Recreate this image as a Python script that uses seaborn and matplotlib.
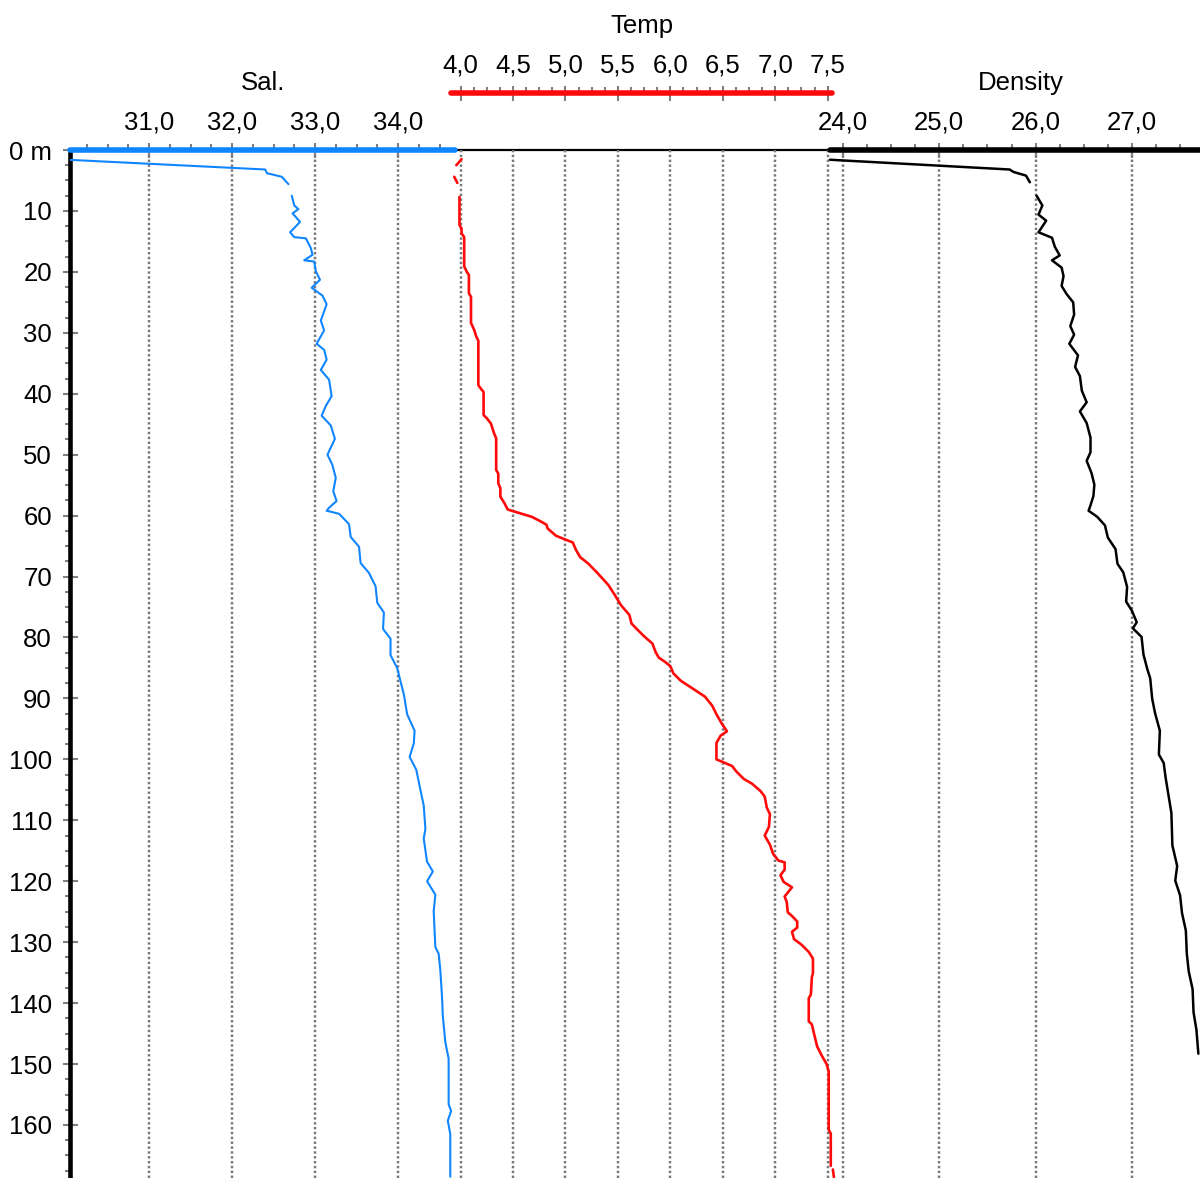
import numpy as np
import pandas as pd
import matplotlib
matplotlib.use("Agg")
import matplotlib.pyplot as plt
from matplotlib.ticker import FixedLocator, FuncFormatter
import seaborn as sns

# ---------------- CTD profile data (depth in m) ----------------
# Salinity
sal_depth_surf = [1.6, 3.2, 3.8, 4.4, 5.6]
sal_surf = [30.02, 32.40, 32.42, 32.60, 32.68]
sal_depth_main = [7.5, 9.1, 9.7, 10.4, 11.8, 13.5, 14.3, 14.5, 16.1, 17.2, 18.1, 18.3,
                  19.9, 21.3, 22.6, 23.9, 25.3, 28.0, 29.6, 31.8, 32.8, 34.4, 36.1, 37.7,
                  40.4, 42.0, 43.6, 45.2, 47.4, 50.0, 51.7, 53.8, 56.0, 57.6, 58.7, 59.2,
                  59.7, 61.4, 63.5, 65.1, 67.8, 69.4, 71.6, 74.3, 75.9, 78.6, 80.2, 82.9,
                  85.0, 87.2, 89.3, 92.6, 95.3, 97.4, 99.6, 101.7, 105.0, 107.6, 111.4,
                  113.0, 116.8, 118.4, 120.0, 122.2, 124.9, 130.8, 131.9, 134.6, 138.9,
                  142.1, 146.4, 149.1, 156.6, 157.7, 159.3, 161.5, 168.5]
sal_main = [32.72, 32.75, 32.80, 32.73, 32.82, 32.70, 32.75, 32.89, 32.95, 32.97, 32.87, 32.99,
            33.01, 33.06, 32.96, 33.09, 33.14, 33.07, 33.11, 33.02, 33.11, 33.14, 33.07, 33.17,
            33.20, 33.13, 33.08, 33.19, 33.24, 33.15, 33.21, 33.25, 33.22, 33.26, 33.17, 33.14,
            33.29, 33.41, 33.43, 33.53, 33.55, 33.65, 33.73, 33.75, 33.83, 33.82, 33.91, 33.91,
            33.99, 34.03, 34.07, 34.11, 34.20, 34.19, 34.14, 34.22, 34.27, 34.31, 34.33,
            34.31, 34.35, 34.42, 34.35, 34.45, 34.43, 34.45, 34.49, 34.51, 34.53,
            34.54, 34.57, 34.61, 34.61, 34.64, 34.60, 34.63, 34.63]

# Temperature
temp_depth_a = [1.5, 2.5]
temp_a = [4.01, 3.96]
temp_depth_b = [4.4, 5.4]
temp_b = [3.94, 3.97]
temp_depth_main = [7.7, 12.3, 12.9, 13.7, 14.3, 19.1, 20.0, 20.5, 23.5, 24.1, 28.4, 29.5,
                   30.6, 31.3, 38.6, 39.3, 39.7, 43.5, 44.0, 44.9, 46.5, 47.3, 52.5, 53.1,
                   54.7, 55.5, 56.9, 58.0, 59.0, 60.2, 61.0, 61.5, 62.1, 63.3, 64.0, 64.4,
                   65.6, 66.8, 67.9, 69.5, 71.4, 73.0, 74.7, 76.3, 77.7, 78.6, 79.8, 81.0,
                   82.4, 83.3, 84.0, 84.7, 85.9, 87.1, 88.0, 88.8, 89.7, 91.2, 92.6, 94.1,
                   95.4, 96.1, 97.3, 100.0, 100.5, 101.1, 102.0, 103.2, 104.0, 105.2, 106.1,
                   107.9, 109.0, 111.1, 112.5, 114.0, 115.5, 116.6, 116.9, 118.1, 119.0,
                   120.1, 121.0, 122.5, 123.4, 125.1, 125.7, 126.6, 127.6, 128.3, 129.5,
                   130.4, 131.6, 132.7, 135.1, 135.7, 138.6, 139.2, 143.0, 143.5, 145.0,
                   147.1, 148.5, 150.0, 151.2, 160.8, 161.4, 166.7]
temp_main = [3.99, 3.99, 4.01, 4.01, 4.035, 4.035, 4.06, 4.08, 4.08, 4.10, 4.10, 4.13,
             4.15, 4.17, 4.17, 4.20, 4.22, 4.22, 4.25, 4.29, 4.32, 4.34, 4.34, 4.36,
             4.36, 4.38, 4.38, 4.42, 4.45, 4.68, 4.77, 4.82, 4.83, 4.91, 5.01, 5.07,
             5.10, 5.14, 5.22, 5.31, 5.41, 5.47, 5.53, 5.61, 5.63, 5.68, 5.75, 5.83,
             5.86, 5.89, 5.95, 6.00, 6.03, 6.10, 6.18, 6.25, 6.33, 6.40, 6.44, 6.49,
             6.54, 6.48, 6.44, 6.44, 6.51, 6.59, 6.63, 6.70, 6.78, 6.86, 6.90,
             6.92, 6.95, 6.94, 6.90, 6.95, 6.98, 7.03, 7.09, 7.09, 7.05,
             7.08, 7.16, 7.09, 7.11, 7.12, 7.16, 7.21, 7.21, 7.16, 7.18,
             7.25, 7.32, 7.36, 7.36, 7.35, 7.34, 7.32, 7.32, 7.35, 7.37,
             7.40, 7.44, 7.49, 7.51, 7.51, 7.53, 7.53]
temp_depth_c = [167.3, 168.6]
temp_c = [7.55, 7.56]

# Density (sigma-t)
dens_depth_surf = [1.6, 3.2, 3.6, 4.2, 5.3]
dens_surf = [23.865, 25.73, 25.77, 25.90, 25.94]
dens_depth_main = [7.5, 9.1, 10.6, 11.6, 13.5, 14.4, 15.9, 17.3, 18.1, 19.3, 20.7, 22.3,
                   23.6, 25.0, 27.0, 28.9, 30.3, 31.8, 33.7, 35.6, 37.1, 39.5, 41.4, 42.9,
                   44.8, 47.2, 49.6, 51.0, 53.0, 54.9, 56.8, 58.3, 59.2, 60.2, 61.6, 63.6,
                   65.5, 67.9, 69.3, 71.7, 74.1, 75.6, 77.5, 78.5, 79.9, 82.8, 85.2, 86.7,
                   90.0, 92.4, 95.3, 99.2, 100.6, 103.0, 105.9, 108.8, 114.1, 117.5, 119.9,
                   122.3, 125.2, 128.1, 131.9, 134.8, 137.7, 141.5, 144.4, 148.3]
dens_main = [26.01, 26.07, 26.03, 26.11, 26.03, 26.17, 26.20, 26.25, 26.17, 26.27, 26.29, 26.27,
             26.32, 26.39, 26.40, 26.36, 26.40, 26.35, 26.44, 26.41, 26.46, 26.48, 26.53, 26.46,
             26.53, 26.57, 26.57, 26.53, 26.58, 26.61, 26.60, 26.57, 26.55, 26.64, 26.72, 26.75,
             26.83, 26.85, 26.91, 26.95, 26.94, 27.00, 27.05, 27.01, 27.10, 27.12, 27.16, 27.19,
             27.21, 27.24, 27.29, 27.28, 27.33, 27.35, 27.38, 27.41, 27.42, 27.47, 27.45,
             27.50, 27.52, 27.56, 27.57, 27.59, 27.63, 27.64, 27.67, 27.69]

# Axis ranges and tick marks
depth_lim = (168.7, 0.0)
depth_major = [0, 10, 20, 30, 40, 50, 60, 70, 80, 90, 100, 110, 120, 130, 140, 150, 160]

sal_lim = (30.048, 43.663)
sal_span = (30.048, 34.69)
sal_major = [31.0, 32.0, 33.0, 34.0]

temp_lim = (0.277, 11.05)
temp_span = (3.91, 7.54)
temp_major = [4.0, 4.5, 5.0, 5.5, 6.0, 6.5, 7.0, 7.5]

dens_lim = (15.973, 27.707)
dens_span = (23.865, 27.83)
dens_major = [24.0, 25.0, 26.0, 27.0]

SAL_COLOR = "#0f86ff"
TEMP_COLOR = "#ff0a0a"
DENS_COLOR = "#000000"
TICK_GREY = "#808080"
GRID_GREY = "#787878"
FS = 18.5


def profile_frame(segments):
    parts = [pd.DataFrame({"depth": d, "value": v, "seg": i})
             for i, (d, v) in enumerate(segments)]
    return pd.concat(parts, ignore_index=True)


sal_df = profile_frame([(sal_depth_surf, sal_surf), (sal_depth_main, sal_main)])
temp_df = profile_frame([(temp_depth_a, temp_a), (temp_depth_b, temp_b),
                         (temp_depth_main, temp_main), (temp_depth_c, temp_c)])
dens_df = profile_frame([(dens_depth_surf, dens_surf), (dens_depth_main, dens_main)])

sns.set_style("white")
plt.rcParams["font.family"] = ["Liberation Sans", "DejaVu Sans"]
plt.rcParams["text.color"] = "black"

fig = plt.figure(figsize=(12, 11.78), dpi=100)
ax = fig.add_axes([70 / 1200, 0.0, 1130 / 1200, 1028 / 1178])

comma = FuncFormatter(lambda v, p: f"{v:.1f}".replace(".", ","))


def style_top_axis(a, lim, span, major, minor, color, title, spine_offset=0.0,
                   title_offset=48.2):
    a.set_xlim(*lim)
    for side in ("left", "right", "bottom"):
        a.spines[side].set_visible(False)
    sp = a.spines["top"]
    sp.set_visible(True)
    sp.set_bounds(*span)
    sp.set_color(color)
    sp.set_linewidth(4.0)
    sp.set_capstyle("round")
    if spine_offset:
        sp.set_position(("outward", spine_offset))
    a.xaxis.set_major_locator(FixedLocator(major))
    a.xaxis.set_minor_locator(FixedLocator(minor))
    a.xaxis.set_major_formatter(comma)
    a.tick_params(axis="x", which="major", direction="inout", length=10.8, width=1.5,
                  color=TICK_GREY, labelcolor="black", labelsize=FS, pad=5.5,
                  top=True, labeltop=True, bottom=False, labelbottom=False)
    a.tick_params(axis="x", which="minor", direction="out", length=4, width=1.5,
                  color=TICK_GREY, top=True, bottom=False)
    a.grid(False)
    a.grid(axis="x", which="major", color=GRID_GREY, linestyle=(0, (1, 1)),
           linewidth=1.75)
    a.set_xlabel("")
    a.set_ylabel("")
    a.annotate(title, xy=((span[0] + span[1]) / 2, 1.0),
               xycoords=("data", "axes fraction"),
               xytext=(0, title_offset + spine_offset), textcoords="offset points",
               ha="center", va="center", fontsize=FS, color="black",
               annotation_clip=False)


ax_sal = ax.twiny()
ax_tmp = ax.twiny()
ax_den = ax.twiny()

line_kw = dict(x="value", y="depth", units="seg", estimator=None, sort=False,
               orient="y", legend=False)
sns.lineplot(data=sal_df, ax=ax_sal, color=SAL_COLOR, lw=1.5, **line_kw)
sns.lineplot(data=temp_df, ax=ax_tmp, color=TEMP_COLOR, lw=1.9, **line_kw)
sns.lineplot(data=dens_df, ax=ax_den, color=DENS_COLOR, lw=1.8, **line_kw)

sal_minor = [v for v in np.arange(30.25, sal_span[1], 0.25) if v not in sal_major]
temp_minor = [v for v in np.arange(4.125, temp_span[1], 0.125) if v not in temp_major]
dens_minor = [v for v in np.arange(24.25, dens_lim[1], 0.25) if v not in dens_major]

style_top_axis(ax_sal, sal_lim, sal_span, sal_major, sal_minor, SAL_COLOR, "Sal.")
style_top_axis(ax_tmp, temp_lim, temp_span, temp_major, temp_minor, TEMP_COLOR, "Temp",
               spine_offset=41.0)
style_top_axis(ax_den, dens_lim, dens_span, dens_major, dens_minor, DENS_COLOR, "Density")

# Depth axis
ax.set_xlim(0, 1)
ax.set_ylim(*depth_lim)
ax.set_xticks([])
ax.yaxis.set_major_locator(FixedLocator(depth_major))
ax.yaxis.set_minor_locator(FixedLocator(
    [v for v in np.arange(2.5, depth_lim[0], 2.5) if v not in depth_major]))
ax.yaxis.set_major_formatter(FuncFormatter(lambda v, p: "0 m" if v == 0 else f"{v:.0f}"))
ax.tick_params(axis="y", which="major", direction="inout", length=10.8, width=1.5,
               color=TICK_GREY, labelcolor="black", labelsize=FS, pad=7.6,
               left=True, right=False)
ax.tick_params(axis="y", which="minor", direction="out", length=3.6, width=1.5,
               color=TICK_GREY, left=True, right=False)
ax.grid(False)
for side in ("right", "bottom"):
    ax.spines[side].set_visible(False)
ax.spines["left"].set_color("black")
ax.spines["left"].set_linewidth(3.3)
ax.spines["top"].set_color("black")
ax.spines["top"].set_linewidth(1.6)
ax.set_xlabel("")
ax.set_ylabel("")

fig.savefig("out.png", dpi=100, facecolor="white")
